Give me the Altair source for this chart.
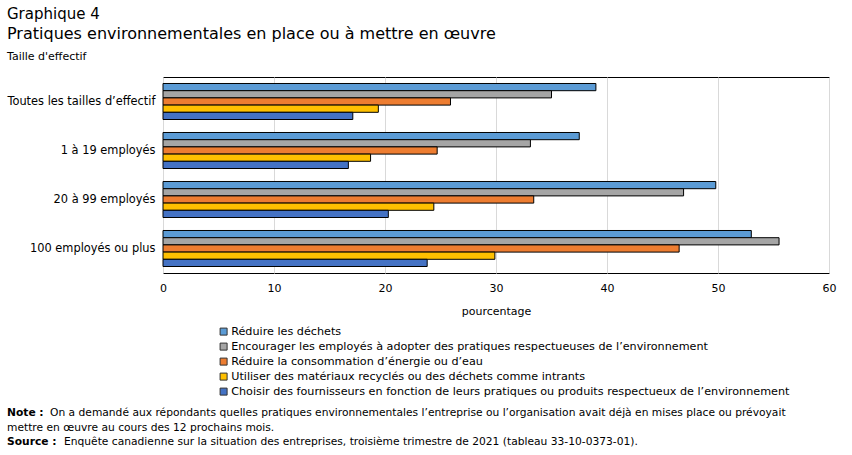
import altair as alt
import pandas as pd

# Firm size categories (y axis) and practices (series)
categories = [
    "Toutes les tailles d’effectif",
    "1 à 19 employés",
    "20 à 99 employés",
    "100 employés ou plus",
]
practices = [
    "Réduire les déchets",
    "Encourager les employés à adopter des pratiques respectueuses de l’environnement",
    "Réduire la consommation d’énergie ou d’eau",
    "Utiliser des matériaux recyclés ou des déchets comme intrants",
    "Choisir des fournisseurs en fonction de leurs pratiques ou produits respectueux de l’environnement",
]
colors = ["#5B9BD5", "#A5A5A5", "#ED7D31", "#FFC000", "#4472C4"]

# Percentages, one list per practice, in category order
reduce_waste = [39.0, 37.5, 49.8, 53.0]
encourage_staff = [35.0, 33.1, 46.9, 55.5]
reduce_energy = [25.9, 24.7, 33.4, 46.5]
recycled_inputs = [19.4, 18.7, 24.4, 29.9]
green_suppliers = [17.1, 16.7, 20.3, 23.8]

series = [reduce_waste, encourage_staff, reduce_energy, recycled_inputs, green_suppliers]

rows = []
for p, vals in zip(practices, series):
    for c, v in zip(categories, vals):
        rows.append({"taille": c, "pratique": p, "valeur": v})
df = pd.DataFrame(rows)

FONT = "DejaVu Sans"
LEFT, TOP = 163, 77
W, H = 666, 196

bars = alt.Chart(df).mark_bar(stroke="black", strokeWidth=1).encode(
    x=alt.X(
        "valeur:Q",
        scale=alt.Scale(domain=[0, 60], nice=False),
        axis=alt.Axis(
            values=[0, 10, 20, 30, 40, 50, 60],
            title="pourcentage",
            ticks=False,
            domain=False,
            labelFlush=False,
            labelPadding=9,
            titlePadding=12,
            grid=True,
            gridColor="#d9d9d9",
        ),
    ),
    y=alt.Y(
        "taille:N",
        sort=categories,
        scale=alt.Scale(paddingInner=0.265, paddingOuter=0.1325),
        axis=alt.Axis(title=None, ticks=False, domain=False, labelPadding=8, labelFontSize=11.4),
    ),
    yOffset=alt.YOffset("pratique:N", sort=practices, scale=alt.Scale(paddingInner=0, paddingOuter=0)),
    color=alt.Color(
        "pratique:N",
        sort=practices,
        scale=alt.Scale(domain=practices, range=colors),
        legend=alt.Legend(
            title=None,
            orient="none",
            legendX=55,
            legendY=249,
            symbolType="square",
            symbolSize=49,
            symbolStrokeColor="#333333",
            symbolStrokeWidth=1,
            labelFont=FONT,
            labelFontSize=11.2,
            labelColor="black",
            labelOffset=2,
            rowPadding=2.0,
            labelLimit=700,
        ),
    ),
)


def label(text, x, y, size=11, bold=False):
    return alt.Chart(pd.DataFrame({"t": [text]})).mark_text(
        align="left",
        baseline="alphabetic",
        font=FONT,
        fontSize=size,
        fontWeight="bold" if bold else "normal",
        color="black",
    ).encode(text="t:N", x=alt.value(x - LEFT), y=alt.value(y - TOP))


NOTE = 10.7
texts = [
    label("Graphique 4", 7, 19, 15),
    label("Pratiques environnementales en place ou à mettre en œuvre", 7, 38.5, 16),
    label("Taille d'effectif", 7, 60, 11),
    label("Note :", 7, 416, NOTE, True),
    label(
        "On a demandé aux répondants quelles pratiques environnementales l’entreprise ou l’organisation avait déjà en mises place ou prévoyait",
        50, 416, NOTE,
    ),
    label("mettre en œuvre au cours des 12 prochains mois.", 7, 431, NOTE),
    label("Source :", 7, 445, NOTE, True),
    label(
        "Enquête canadienne sur la situation des entreprises, troisième trimestre de 2021 (tableau 33-10-0373-01).",
        64, 445, NOTE,
    ),
]

chart = alt.layer(bars, *texts).properties(
    width=W,
    height=H,
    autosize=alt.AutoSizeParams(type="none"),
    padding={"left": LEFT, "top": TOP, "right": 852 - LEFT - W, "bottom": 455 - TOP - H},
    background="white",
).configure_view(
    stroke="black", strokeWidth=1
).configure_axis(
    labelFont=FONT, labelFontSize=11, labelColor="black",
    titleFont=FONT, titleFontSize=11, titleColor="black", titleFontWeight="normal",
)

chart.save("out.html", embed_options={"renderer": "svg", "actions": False})
